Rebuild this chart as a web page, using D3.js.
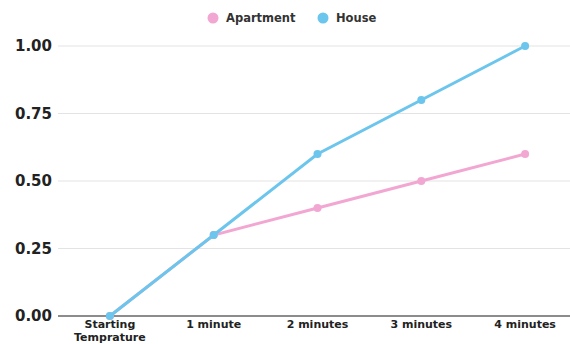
<!DOCTYPE html>
<html>
<head>
<meta charset="utf-8">
<script src="https://cdn.jsdelivr.net/npm/d3@7"></script>
<style>
  body { margin: 0; background: #fff; }
  text { font-family: "DejaVu Sans", sans-serif; font-weight: bold; }
</style>
</head>
<body>
<script>
// data
let categories = ["Starting Temprature", "1 minute", "2 minutes", "3 minutes", "4 minutes"]
let apartment = [0, 0.3, 0.4, 0.5, 0.6]
let house = [0, 0.3, 0.6, 0.8, 1.0]
let yTicks = [0, 0.25, 0.5, 0.75, 1]

let seriesList = [
  {name: "Apartment", values: apartment, color: "#f2a7d2"},
  {name: "House", values: house, color: "#6cc5ec"}
]

let width = 570, height = 344
let margin = {top: 46, right: -7, bottom: 28, left: 58}

let svg = d3.select("body").append("svg")
    .attr("width", width)
    .attr("height", height)

let x = d3.scalePoint()
    .domain(categories)
    .range([margin.left, width - margin.right])
    .padding(0.5)

let y = d3.scaleLinear()
    .domain([0, 1])
    .range([height - margin.bottom, margin.top])

// gridlines
svg.append("g")
  .selectAll("line")
  .data(yTicks)
  .enter().append("line")
    .attr("x1", margin.left)
    .attr("x2", width)
    .attr("y1", d => y(d))
    .attr("y2", d => y(d))
    .attr("stroke", d => d === 0 ? "#666" : "#e3e3e3")
    .attr("stroke-width", d => d === 0 ? 1.5 : 1)

// y labels
svg.append("g")
  .selectAll("text")
  .data(yTicks)
  .enter().append("text")
    .attr("x", 52)
    .attr("y", d => y(d))
    .attr("dy", "0.35em")
    .attr("text-anchor", "end")
    .style("font-size", "15px")
    .attr("fill", "#222")
    .text(d => d3.format(".2f")(d))

// x labels (split into lines, one text per line)
let xLines = []
categories.forEach(c => {
  let words = c === "Starting Temprature" ? ["Starting", "Temprature"] : [c]
  words.forEach((w, i) => xLines.push({cat: c, text: w, row: i}))
})
svg.append("g")
  .selectAll("text")
  .data(xLines)
  .enter().append("text")
    .attr("x", d => x(d.cat))
    .attr("y", d => height - margin.bottom + 12 + d.row * 13)
    .attr("text-anchor", "middle")
    .style("font-size", "11px")
    .attr("fill", "#222")
    .text(d => d.text)

// lines
let line = d3.line()
    .x((d, i) => x(categories[i]))
    .y(d => y(d))

seriesList.forEach(s => {
  svg.append("path")
    .datum(s.values)
    .attr("fill", "none")
    .attr("stroke", s.color)
    .attr("stroke-width", 3)
    .attr("d", line)
  svg.append("g")
    .selectAll("circle")
    .data(s.values)
    .enter().append("circle")
      .attr("cx", (d, i) => x(categories[i]))
      .attr("cy", d => y(d))
      .attr("r", 4)
      .attr("fill", s.color)
})

// legend
let legendX = [213, 323]
let legend = svg.append("g")
  .selectAll("g")
  .data(seriesList)
  .enter().append("g")
    .attr("transform", (d, i) => "translate(" + legendX[i] + ",18)")
legend.append("circle")
  .attr("r", 5.5)
  .attr("fill", d => d.color)
legend.append("text")
  .attr("x", 13)
  .attr("dy", "0.35em")
  .style("font-size", "11.5px")
  .attr("fill", "#333")
  .text(d => d.name)
</script>
</body>
</html>
